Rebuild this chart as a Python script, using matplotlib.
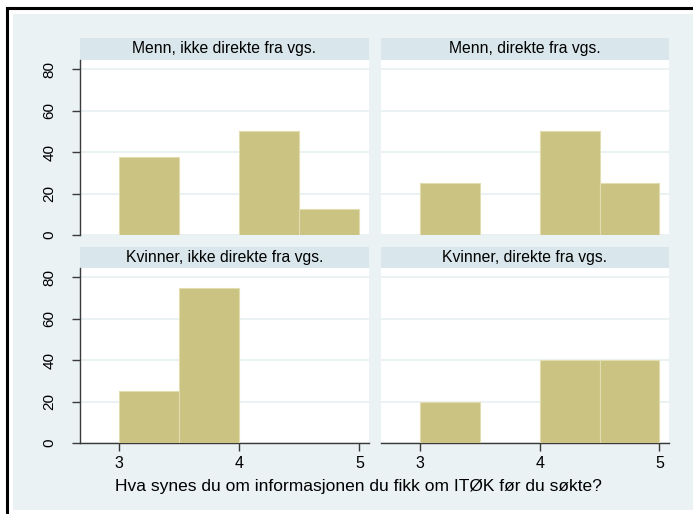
import matplotlib.pyplot as plt
from matplotlib.patches import Rectangle

plt.rcParams['font.family'] = ['Liberation Sans', 'DejaVu Sans']

# data: histogram (percent) by group, bins of width 0.5 from 3 to 5
bin_left = [3.0, 3.5, 4.0, 4.5]
bin_width = 0.5
titles = ['Menn, ikke direkte fra vgs.', 'Menn, direkte fra vgs.',
          'Kvinner, ikke direkte fra vgs.', 'Kvinner, direkte fra vgs.']
menn_ikke = [37.5, 0, 50, 12.5]
menn_dir = [25, 0, 50, 25]
kvinner_ikke = [25, 75, 0, 0]
kvinner_dir = [20, 0, 40, 40]
x_ticks = [3, 4, 5]
y_ticks = [0, 20, 40, 60, 80]
xlabel = 'Hva synes du om informasjonen du fikk om ITØK før du søkte?'

W, H = 693, 514
BG = '#EAF2F3'
STRIP = '#D9E6EB'
BAR = '#CBC382'
AXC = '#3a3a3a'

fig = plt.figure(figsize=(W / 100, H / 100), dpi=100)
fig.patch.set_facecolor('white')


def px(x0, y0, x1, y1):
    # pixel box (top-left origin) -> figure fraction
    return [x0 / W, 1 - y1 / H, (x1 - x0) / W, (y1 - y0) / H]


# graph region background and frame
bg = fig.add_axes([0, 0, 1, 1], zorder=-5)
bg.set_xlim(0, W)
bg.set_ylim(H, 0)
bg.axis('off')
bg.add_patch(Rectangle((13, 14), W - 13, 496, color=BG, lw=0))
bg.plot([7, 7], [8, H], color='black', lw=2.2)
bg.plot([7, W], [8, 8], color='black', lw=2.2)

cols = [(80, 369), (381, 669)]
rows = [(38, 60, 235), (247, 268, 443)]
series = [menn_ikke, menn_dir, kvinner_ikke, kvinner_dir]

for i, vals in enumerate(series):
    r, c = divmod(i, 2)
    x0, x1 = cols[c]
    s0, p0, p1 = rows[r]

    # strip title
    sax = fig.add_axes(px(x0, s0, x1, p0))
    sax.set_facecolor(STRIP)
    sax.set_xticks([])
    sax.set_yticks([])
    for sp in sax.spines.values():
        sp.set_visible(False)
    sax.text(0.5, 0.5, titles[i], ha='center', va='center', fontsize=11.3,
             transform=sax.transAxes)

    ax = fig.add_axes(px(x0, p0, x1, p1))
    ax.set_facecolor('white')
    ax.bar(bin_left, vals, width=bin_width, align='edge', color=BAR,
           edgecolor='#E2DDB0', linewidth=0.8, zorder=3)
    ax.set_xlim(2.675, 5.08)
    ax.set_ylim(0, 84.5)
    ax.set_yticks(y_ticks)
    ax.grid(axis='y', color=BG, lw=1.4, zorder=0)
    for sp in ['top', 'right']:
        ax.spines[sp].set_visible(False)

    if c == 0:
        ax.spines['left'].set_color(AXC)
        ax.spines['left'].set_linewidth(1)
        ax.tick_params(axis='y', length=6, width=1, color=AXC, labelsize=11,
                       pad=11)
        for lab in ax.get_yticklabels():
            lab.set_rotation(90)
            lab.set_va('center')
    else:
        ax.spines['left'].set_visible(False)
        ax.tick_params(axis='y', length=0, labelleft=False)

    if r == 1:
        ax.set_xticks(x_ticks)
        ax.spines['bottom'].set_color(AXC)
        ax.spines['bottom'].set_linewidth(1)
        ax.tick_params(axis='x', length=6, width=1, color=AXC, labelsize=11.5,
                       pad=3)
    else:
        ax.spines['bottom'].set_visible(False)
        ax.set_xticks([])

fig.text(358 / W, 1 - 487 / H, xlabel, ha='center', va='center', fontsize=12.5)

fig.savefig('out.png', dpi=100, facecolor='white')
